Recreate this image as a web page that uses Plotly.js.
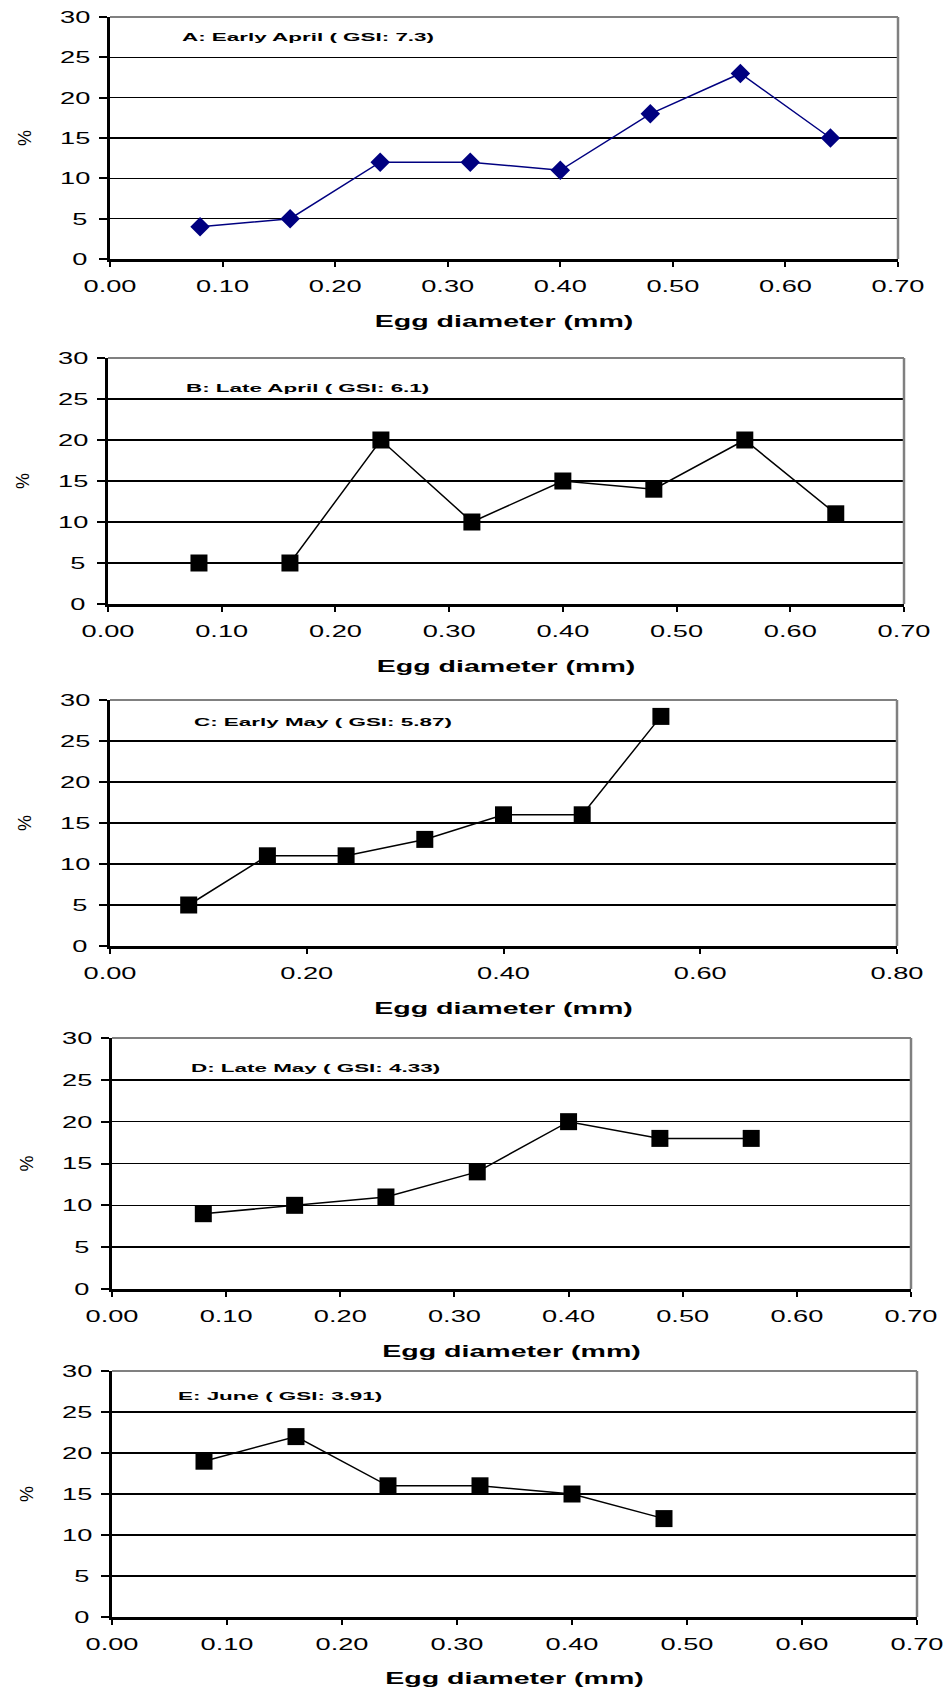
<!DOCTYPE html>
<html>
<head>
<meta charset="utf-8">
<script src="https://cdn.plot.ly/plotly-3.0.1.min.js"></script>
<style>
  html, body { margin: 0; padding: 0; background: #fff; }
  #chart { width: 944px; height: 1688px; }
  g.xtick, g.x2tick, g.x3tick, g.x4tick, g.x5tick,
  g.ytick, g.y2tick, g.y3tick, g.y4tick, g.y5tick {
    transform-box: fill-box; transform-origin: center; transform: scaleX(1.6);
  }
  text.xtitle, text.x2title, text.x3title, text.x4title, text.x5title {
    transform-box: fill-box; transform-origin: center; transform: scaleX(1.68);
  }
  text.annotation-text {
    transform-box: fill-box; transform-origin: center; transform: scaleX(1.95);
  }
</style>
</head>
<body>
<div id="chart"></div>
<script>
// ---------- data ----------
const panelLabels = [
  "A: Early April ( GSI: 7.3)",
  "B: Late April ( GSI: 6.1)",
  "C: Early May ( GSI: 5.87)",
  "D: Late May ( GSI: 4.33)",
  "E: June ( GSI: 3.91)"
];
const diamA = [0.08, 0.16, 0.24, 0.32, 0.40, 0.48, 0.56, 0.64];
const pctA  = [4, 5, 12, 12, 11, 18, 23, 15];
const diamB = [0.08, 0.16, 0.24, 0.32, 0.40, 0.48, 0.56, 0.64];
const pctB  = [5, 5, 20, 10, 15, 14, 20, 11];
const diamC = [0.08, 0.16, 0.24, 0.32, 0.40, 0.48, 0.56];
const pctC  = [5, 11, 11, 13, 16, 16, 28];
const diamD = [0.08, 0.16, 0.24, 0.32, 0.40, 0.48, 0.56];
const pctD  = [9, 10, 11, 14, 20, 18, 18];
const diamE = [0.08, 0.16, 0.24, 0.32, 0.40, 0.48];
const pctE  = [19, 22, 16, 16, 15, 12];

const xTicks07 = [0, 0.1, 0.2, 0.3, 0.4, 0.5, 0.6, 0.7];
const xTickText07 = ["0.00", "0.10", "0.20", "0.30", "0.40", "0.50", "0.60", "0.70"];
const xTicks08 = [0, 0.2, 0.4, 0.6, 0.8];
const xTickText08 = ["0.00", "0.20", "0.40", "0.60", "0.80"];
const yTicks = [0, 5, 10, 15, 20, 25, 30];
const xTitle = "Egg diameter (mm)";
const yTitle = "%";

// ---------- layout geometry (pixels) ----------
const W = 944, H = 1688;
const boxes = [
  {l: 110, r: 898, t: 17,   b: 259,  lx: 308, ly: 37.7},
  {l: 108, r: 904, t: 358,  b: 604,  lx: 307, ly: 388},
  {l: 110, r: 897, t: 700,  b: 946,  lx: 323, ly: 722.7},
  {l: 112, r: 911, t: 1038, b: 1289, lx: 315, ly: 1068},
  {l: 112, r: 917, t: 1371, b: 1617, lx: 280, ly: 1396.7}
];

const xs = [diamA, diamB, diamC, diamD, diamE];
const ys = [pctA, pctB, pctC, pctD, pctE];
const xRanges = [[0, 0.7], [0, 0.7], [0, 0.8], [0, 0.7], [0, 0.7]];
const xTV = [xTicks07, xTicks07, xTicks08, xTicks07, xTicks07];
const xTT = [xTickText07, xTickText07, xTickText08, xTickText07, xTickText07];

const tickFont = {family: "Liberation Sans", size: 17, color: "#000"};
const titleFont = {family: "Liberation Sans", size: 17, color: "#000", weight: "bold"};

const traces = [];
const layout = {
  width: W, height: H,
  margin: {l: 0, r: 0, t: 0, b: 0},
  paper_bgcolor: "#fff",
  plot_bgcolor: "#fff",
  showlegend: false,
  annotations: [],
  shapes: []
};

for (let i = 0; i < 5; i++) {
  const n = i === 0 ? "" : String(i + 1);
  const b = boxes[i];
  const isA = i === 0;
  traces.push({
    type: "scatter", mode: "lines+markers",
    x: xs[i], y: ys[i],
    xaxis: "x" + n, yaxis: "y" + n,
    line: {color: isA ? "#000080" : "#000", width: 1.5},
    marker: isA
      ? {symbol: "diamond", size: 15, color: "#000080"}
      : {symbol: "square", size: 17, color: "#000"},
    cliponaxis: false
  });
  layout["xaxis" + n] = {
    domain: [b.l / W, b.r / W],
    anchor: "y" + n,
    range: xRanges[i],
    tickmode: "array", tickvals: xTV[i], ticktext: xTT[i],
    showgrid: false, zeroline: false,
    showline: true, linecolor: "#000", linewidth: 2.5,
    ticks: "outside", ticklen: 5, tickwidth: 2, tickcolor: "#000",
    ticklabelstandoff: 5,
    tickfont: tickFont,
    title: {text: xTitle, font: titleFont, standoff: 21}
  };
  layout["yaxis" + n] = {
    domain: [1 - b.b / H, 1 - b.t / H],
    anchor: "x" + n,
    range: [0, 30],
    tickmode: "array", tickvals: yTicks,
    showgrid: true, gridcolor: "#000", gridwidth: 1.5,
    zeroline: false,
    showline: true, linecolor: "#000", linewidth: 3,
    ticks: "outside", ticklen: 8, tickwidth: 2, tickcolor: "#000",
    ticklabelstandoff: 11,
    tickfont: tickFont,
    title: {text: yTitle, font: {family: "Liberation Sans", size: 18, color: "#000"}, standoff: 24}
  };
  // gray top and right frame
  layout.shapes.push({
    type: "line", xref: "x" + n + " domain", yref: "y" + n + " domain",
    x0: 0, x1: 1, y0: 1, y1: 1, layer: "above",
    line: {color: "#808080", width: 2}
  });
  layout.shapes.push({
    type: "line", xref: "x" + n + " domain", yref: "y" + n + " domain",
    x0: 1, x1: 1, y0: 0, y1: 1, layer: "above",
    line: {color: "#808080", width: 2.5}
  });
  layout.annotations.push({
    text: panelLabels[i],
    xref: "paper", yref: "paper",
    x: b.lx / W, y: 1 - b.ly / H,
    xanchor: "center", yanchor: "middle",
    showarrow: false,
    font: {family: "Liberation Sans", size: 11.5, color: "#000", weight: "bold"}
  });
}

Plotly.newPlot("chart", traces, layout, {displayModeBar: false, staticPlot: true});
</script>
</body>
</html>
